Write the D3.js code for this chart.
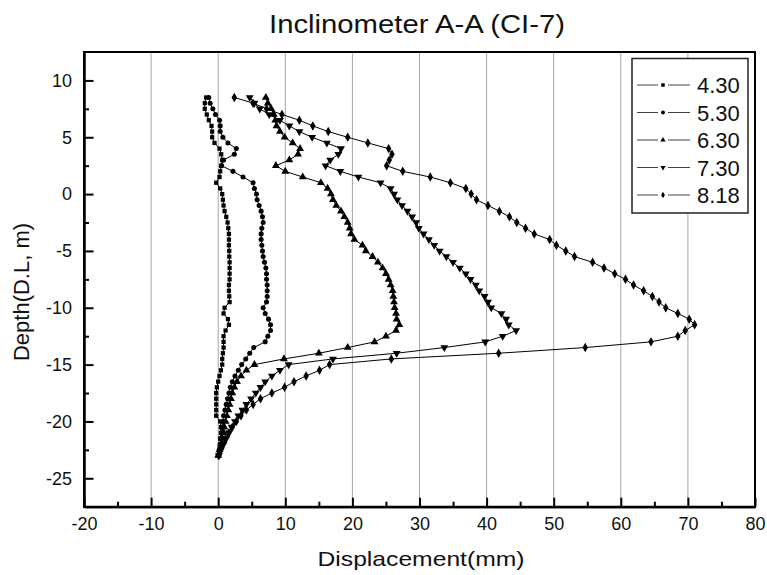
<!DOCTYPE html>
<html>
<head>
<meta charset="utf-8">
<script src="https://cdn.jsdelivr.net/npm/d3@7"></script>
<style>
  html, body { margin: 0; padding: 0; background: #fff; }
  svg { display: block; font-family: "Liberation Sans", Arial, sans-serif; }
</style>
</head>
<body>
<svg id="chart" width="767" height="575"></svg>
<script>
// ---------- data ----------
const depths = [8.5, 8, 7.5, 7, 6.5, 6, 5.5, 5, 4.5, 4, 3.5, 3, 2.5, 2, 1.5, 1, 0.5, 0,
  -0.5, -1, -1.5, -2, -2.5, -3, -3.5, -4, -4.5, -5, -5.5, -6, -6.5, -7, -7.5, -8, -8.5, -9,
  -9.5, -10, -10.5, -11, -11.5, -12, -12.5, -13, -13.5, -14, -14.5, -15, -15.5, -16, -16.5,
  -17, -17.5, -18, -18.5, -19, -19.5, -20, -20.5, -21, -21.5, -22, -22.5, -23];

const seriesNames = ["4.30", "5.30", "6.30", "7.30", "8.18"];
const markerShapes = ["square", "circle", "triangleUp", "triangleDown", "diamond"];

const disp430 = [-1.8, -2.0, -2.0, -1.7, -1.4, -1.0, -0.9, -0.9, -0.55, 0.2, 0.45, 0.6, 0.45, 0.3, 0.2, -0.3, 0.3, 0.6,
  0.7, 0.8, 0.95, 1.2, 1.4, 1.5, 1.6, 1.6, 1.6, 1.65, 1.65, 1.7, 1.7, 1.7, 1.7, 1.6, 1.6, 1.65,
  1.7, 0.95, 0.8, 1.45, 1.6, 1.1, 0.8, 0.8, 0.8, 0.7, 0.6, 0.6, 0.4, 0.2, 0.0,
  -0.2, -0.3, -0.3, -0.3, -0.3, -0.3, 0.3, 0.4, 0.4, 0.3, 0.3, 0.2, 0.0];

const disp530 = [-1.4, -1.2, -0.8, -0.4, 0.2, 0.3, 0.3, 0.7, 1.45, 2.7, 2.4, 0.8, 0.5, 2.2, 3.7, 5.2, 5.4, 5.7,
  5.8, 6.1, 6.4, 6.6, 6.7, 6.5, 6.4, 6.4, 6.5, 6.6, 6.7, 6.9, 7.1, 7.2, 7.2, 7.3, 7.3, 7.3,
  7.2, 6.7, 7.0, 7.5, 7.8, 7.8, 7.4, 7.0, 5.3, 4.7, 4.1, 3.5, 3.0, 2.5, 2.1,
  1.8, 1.6, 1.4, 1.2, 1.0, 0.8, 0.7, 0.6, 0.5, 0.4, 0.3, 0.15, 0.0];

const disp630 = [7.1, 7.4, 7.9, 8.3, 8.5, 8.7, 9.2, 9.9, 11.1, 12.2, 11.9, 10.6, 8.6, 10.0, 12.6, 15.3, 16.3, 16.8,
  17.1, 17.6, 18.3, 18.8, 19.3, 19.6, 19.8, 20.3, 21.5, 22.0, 23.0, 23.8, 24.5, 25.0, 25.4, 25.7, 26.0, 26.1,
  26.2, 26.3, 26.5, 26.6, 27.0, 26.5, 25.0, 23.3, 19.3, 15.0, 9.8, 5.4, 4.2, 3.4, 2.8,
  2.4, 2.1, 1.9, 1.7, 1.5, 1.3, 1.1, 0.9, 0.8, 0.6, 0.4, 0.2, 0.0];

const disp730 = [4.7, 5.4, 6.2, 7.6, 9.2, 10.6, 12.1, 14.0, 16.2, 18.3, 17.9, 16.7, 16.0, 18.2, 20.9, 24.2, 25.7, 26.2,
  26.7, 27.4, 28.2, 28.9, 29.5, 29.9, 30.6, 31.4, 32.2, 33.0, 34.0, 35.0, 36.0, 36.9, 37.6, 38.4, 38.9, 39.7,
  40.2, 40.7, 42.2, 42.9, 43.3, 44.4, 42.4, 39.8, 33.7, 26.6, 17.1, 10.5, 9.2, 8.0, 7.0,
  6.3, 5.6, 4.9, 4.2, 3.6, 3.0, 2.5, 2.0, 1.6, 1.2, 0.8, 0.4, 0.1];

const disp818 = [2.4, 5.2, 7.2, 9.5, 12.1, 14.1, 16.4, 19.3, 22.3, 25.4, 25.9, 25.5, 25.1, 27.5, 31.6, 34.6, 36.9, 37.7,
  38.5, 40.2, 41.9, 43.4, 44.5, 45.8, 47.1, 49.4, 50.4, 51.8, 53.1, 55.8, 57.5, 59.1, 60.7, 61.9, 63.4, 64.7,
  65.7, 66.7, 68.5, 70.2, 71.0, 69.6, 68.5, 64.5, 54.7, 41.8, 25.8, 16.6, 15.1, 13.1, 11.3,
  9.9, 8.0, 6.3, 5.2, 4.2, 3.4, 2.7, 2.1, 1.6, 1.1, 0.7, 0.4, 0.1];

const xMajorTicks = [-20, -10, 0, 10, 20, 30, 40, 50, 60, 70, 80];
const xMinorTicks = [-15, -5, 5, 15, 25, 35, 45, 55, 65, 75];
const yMajorTicks = [10, 5, 0, -5, -10, -15, -20, -25];
const yMinorTicks = [7.5, 2.5, -2.5, -7.5, -12.5, -17.5, -22.5];
const xGridValues = [-10, 0, 10, 20, 30, 40, 50, 60, 70];

const titleText = "Inclinometer A-A (CI-7)";
const xTitle = "Displacement(mm)";
const yTitle = "Depth(D.L, m)";

// ---------- layout ----------
const allSeries = [disp430, disp530, disp630, disp730, disp818];
const pLeft = 84, pRight = 755, pTop = 52, pBottom = 506.7;

const x = d3.scaleLinear().domain([-20, 80]).range([pLeft, pRight]);
const y = d3.scaleLinear().domain([-27.5, 12.5]).range([pBottom, pTop]);

const svg = d3.select("#chart");

// grid
svg.append("g").selectAll("line").data(xGridValues).join("line")
  .attr("x1", d => x(d)).attr("x2", d => x(d))
  .attr("y1", pTop).attr("y2", pBottom)
  .attr("stroke", "#a6a6a6").attr("stroke-width", 1);

// axes
const fontTick = 18;
const plainFmt = d => String(d);
const xAxisMajor = d3.axisBottom(x).tickValues(xMajorTicks).tickSizeInner(-9).tickSizeOuter(0).tickPadding(11).tickFormat(plainFmt);
const xAxisMinor = d3.axisBottom(x).tickValues(xMinorTicks).tickSizeInner(-5).tickSizeOuter(0).tickFormat("");
const yAxisMajor = d3.axisLeft(y).tickValues(yMajorTicks).tickSizeInner(-9.5).tickSizeOuter(0).tickPadding(12).tickFormat(plainFmt);
const yAxisMinor = d3.axisLeft(y).tickValues(yMinorTicks).tickSizeInner(-5).tickSizeOuter(0).tickFormat("");

function styleAxis(g) {
  g.selectAll("path").attr("stroke", "#000").attr("stroke-width", 2);
  g.selectAll("line").attr("stroke", "#000").attr("stroke-width", 2);
  g.selectAll("text").attr("fill", "#111").style("font-size", fontTick + "px")
    .style("font-family", '"Liberation Sans", Arial, sans-serif');
}

svg.append("g").attr("transform", `translate(0,${pBottom})`).call(xAxisMinor).call(styleAxis);
svg.append("g").attr("transform", `translate(0,${pBottom})`).call(xAxisMajor).call(styleAxis);
svg.append("g").attr("transform", `translate(${pLeft},0)`).call(yAxisMinor).call(styleAxis);
svg.append("g").attr("transform", `translate(${pLeft},0)`).call(yAxisMajor).call(styleAxis);

// frame
svg.append("line").attr("x1", pLeft - 1).attr("x2", pRight + 1).attr("y1", pTop).attr("y2", pTop)
  .attr("stroke", "#000").attr("stroke-width", 2);
svg.append("line").attr("x1", pRight).attr("x2", pRight).attr("y1", pTop).attr("y2", pBottom + 1)
  .attr("stroke", "#000").attr("stroke-width", 2);
svg.append("line").attr("x1", pLeft - 1).attr("x2", pRight + 1).attr("y1", pBottom).attr("y2", pBottom)
  .attr("stroke", "#000").attr("stroke-width", 2);
svg.append("line").attr("x1", pLeft).attr("x2", pLeft).attr("y1", pTop - 1).attr("y2", pBottom + 1)
  .attr("stroke", "#000").attr("stroke-width", 2);

// markers
const symbolTypes = {
  square: d3.symbolSquare,
  circle: d3.symbolCircle,
  triangleUp: d3.symbolTriangle,
  triangleDown: d3.symbolTriangle,
  diamond: d3.symbolDiamond
};
const symbolSizes = { square: 18, circle: 20, triangleUp: 27, triangleDown: 27, diamond: 26 };
function symbolTransform(shape, px, py) {
  if (shape === "triangleDown") return `translate(${px},${py}) rotate(180)`;
  return `translate(${px},${py})`;
}

const line = d3.line().x(d => x(d[0])).y(d => y(d[1]));

allSeries.forEach((vals, i) => {
  const shape = markerShapes[i];
  const pts = vals.map((v, j) => [v, depths[j]]);
  const g = svg.append("g");
  g.append("path").datum(pts).attr("d", line)
    .attr("fill", "none").attr("stroke", "#000").attr("stroke-width", 1);
  g.selectAll("path.m").data(pts).join("path").attr("class", "m")
    .attr("d", d3.symbol().type(symbolTypes[shape]).size(symbolSizes[shape])())
    .attr("transform", d => symbolTransform(shape, x(d[0]), y(d[1])))
    .attr("fill", "#000");
});

// legend
const lg = svg.append("g");
lg.append("rect").attr("x", 632).attr("y", 58.5).attr("width", 116).attr("height", 154.5)
  .attr("fill", "#fff").attr("stroke", "#222").attr("stroke-width", 1.5);
seriesNames.forEach((name, i) => {
  const cy = 85 + i * 27.5;
  const shape = markerShapes[i];
  lg.append("line").attr("x1", 637).attr("x2", 658).attr("y1", cy).attr("y2", cy)
    .attr("stroke", "#444").attr("stroke-width", 1);
  lg.append("line").attr("x1", 668).attr("x2", 690).attr("y1", cy).attr("y2", cy)
    .attr("stroke", "#444").attr("stroke-width", 1);
  lg.append("path").attr("d", d3.symbol().type(symbolTypes[shape]).size(12)())
    .attr("transform", symbolTransform(shape, 663, cy))
    .attr("fill", "#000");
  lg.append("text").attr("x", 697).attr("y", cy + 8)
    .style("font-size", "22px").attr("fill", "#111").text(name);
});

// titles
svg.append("text").attr("x", 417).attr("y", 33).attr("text-anchor", "middle")
  .attr("textLength", 296).attr("lengthAdjust", "spacingAndGlyphs")
  .style("font-size", "25px").attr("fill", "#111").text(titleText);
svg.append("text").attr("x", 421).attr("y", 566).attr("text-anchor", "middle")
  .attr("textLength", 207).attr("lengthAdjust", "spacingAndGlyphs")
  .style("font-size", "21px").attr("fill", "#111").text(xTitle);
svg.append("text").attr("transform", "translate(29,292) rotate(-90)").attr("text-anchor", "middle")
  .style("font-size", "22px").attr("fill", "#111").text(yTitle);
</script>
</body>
</html>
